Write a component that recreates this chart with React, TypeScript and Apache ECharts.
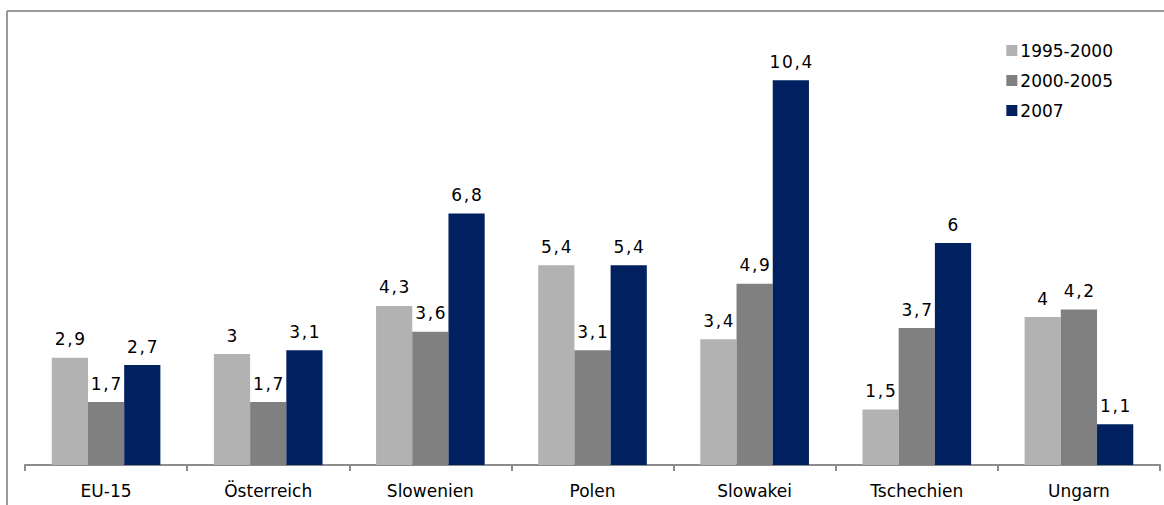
import React, { useEffect, useRef } from "react";
import * as echarts from "echarts";

const categories = ["EU-15", "Österreich", "Slowenien", "Polen", "Slowakei", "Tschechien", "Ungarn"];
const seriesNames = ["1995-2000", "2000-2005", "2007"];
const s1995 = [2.9, 3, 4.3, 5.4, 3.4, 1.5, 4];
const s2000 = [1.7, 1.7, 3.6, 3.1, 4.9, 3.7, 4.2];
const s2007 = [2.7, 3.1, 6.8, 5.4, 10.4, 6, 1.1];
const colors = ["#b2b2b2", "#808080", "#00205f"];

const FONT = "DejaVu Sans";

export default function App() {
  const ref = useRef<HTMLDivElement>(null);
  useEffect(() => {
    const chart = echarts.init(ref.current!, undefined, { renderer: "svg" });
    const data = [s1995, s2000, s2007];
    chart.setOption({
      animation: false,
      textStyle: { fontFamily: FONT },
      grid: { left: 25, right: 4, top: 21, bottom: 40 },
      legend: {
        orient: "vertical",
        right: 46,
        top: 37,
        itemWidth: 11,
        itemHeight: 11,
        itemGap: 13,
        icon: "rect",
        textStyle: { fontSize: 17, color: "#000", fontFamily: FONT, padding: [0, 0, 0, -2] },
        data: seriesNames,
      },
      graphic: [
        { type: "line", shape: { x1: 7, y1: 11, x2: 7, y2: 505 }, style: { stroke: "#9a9a9a", lineWidth: 2 } },
        { type: "line", shape: { x1: 7, y1: 11, x2: 1164, y2: 11 }, style: { stroke: "#9a9a9a", lineWidth: 2 } },
      ],
      xAxis: {
        type: "category",
        data: categories,
        axisLine: { lineStyle: { color: "#8c8c8c", width: 2 } },
        axisTick: { show: true, alignWithLabel: false, length: 6, inside: false, lineStyle: { color: "#8c8c8c", width: 2 } },
        axisLabel: { color: "#000", fontSize: 17, margin: 17, fontFamily: FONT },
      },
      yAxis: {
        type: "value",
        min: 0,
        max: 12,
        show: false,
        splitLine: { show: false },
      },
      series: data.map((d, i) => ({
        name: seriesNames[i],
        type: "bar",
        data: d,
        barGap: "0%",
        barCategoryGap: "33%",
        itemStyle: { color: colors[i] },
        label: {
          show: true,
          position: "top",
          distance: 10,
          color: "#000",
          fontSize: 17,
          fontFamily: FONT,
          formatter: (p: any) => String(p.value).replace(".", ",").split("").join("\u200A"),
        },
      })),
    });
    return () => chart.dispose();
  }, []);
  return <div ref={ref} style={{ position: "fixed", left: 0, top: 0, width: 1164, height: 505, background: "#fff" }} />;
}
